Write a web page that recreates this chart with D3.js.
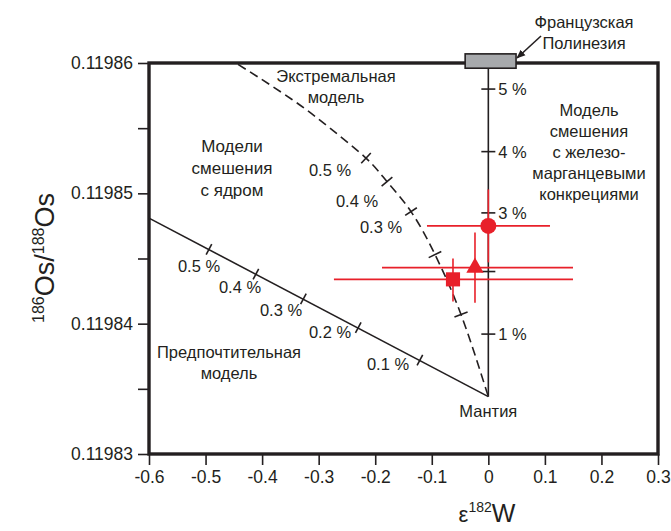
<!DOCTYPE html>
<html><head><meta charset="utf-8">
<script src="https://cdn.jsdelivr.net/npm/d3@7"></script>
<style>
body{margin:0;background:#fff}
text{font-family:"Liberation Sans",Arial,Helvetica,sans-serif;fill:#231f20}
</style>
</head><body><svg id="c" width="671" height="531"></svg>
<script>
// ---------- data ----------
const xTicks = [-0.6,-0.5,-0.4,-0.3,-0.2,-0.1,0,0.1,0.2,0.3];
const yTicks = [0.11983,0.11984,0.11985,0.11986];
const yMinorTicks = [0.119835,0.119845,0.119855];
const mantle = {x:0, y:0.1198344};
// preferred (core mixing) model line
const preferredLine = [{x:0,y:0.1198344},{x:-0.6,y:0.1198481}];
const preferredTicks = [
  {label:"0.1 %",x:-0.121,y:0.1198372},
  {label:"0.2 %",x:-0.230,y:0.1198397},
  {label:"0.3 %",x:-0.327,y:0.1198419},
  {label:"0.4 %",x:-0.411,y:0.1198438},
  {label:"0.5 %",x:-0.494,y:0.1198457}];
// extreme model curve
const extremeCurve = [
  {x:-0.4426,y:0.1198599},{x:-0.3471,y:0.1198572},{x:-0.2800,y:0.1198550},
  {x:-0.2163,y:0.1198527},{x:-0.1792,y:0.1198509},{x:-0.1367,y:0.1198486},
  {x:-0.0943,y:0.1198453},{x:-0.0483,y:0.1198407},{x:0,y:0.1198344}];
const extremeTicks = [
  {label:"0.5 %",x:-0.2163,y:0.1198527},
  {label:"0.4 %",x:-0.1792,y:0.1198509},
  {label:"0.3 %",x:-0.1367,y:0.1198486},
  {label:"",x:-0.0943,y:0.1198453},
  {label:"",x:-0.0483,y:0.1198407}];
// Fe-Mn nodule mixing line (vertical)
const feMnLine = [{x:0,y:0.1198344},{x:0,y:0.11986}];
const feMnTicks = [
  {label:"1 %",x:0,y:0.1198392},
  {label:"",x:0,y:0.1198440},
  {label:"3 %",x:0,y:0.1198485},
  {label:"4 %",x:0,y:0.1198532},
  {label:"5 %",x:0,y:0.1198580}];
// French Polynesia field
const polynesiaBox = {x0:-0.041,x1:0.049,y0:0.1198596,y1:0.1198607};
// samples with error bars
const samples = [
  {shape:"circle",  x:0,      y:0.1198475, xlo:-0.1085,xhi:0.109, ylo:0.1198447,yhi:0.1198503},
  {shape:"triangle",x:-0.0236,y:0.1198443, xlo:-0.188, xhi:0.1497,ylo:0.1198416,yhi:0.1198470},
  {shape:"square",  x:-0.0625,y:0.1198434, xlo:-0.273, xhi:0.1497,ylo:0.1198417,yhi:0.1198450}];

// ---------- layout ----------
const svg = d3.select("#c");
const L=149,R=658,T=63,B=454;
const x = d3.scaleLinear().domain([-0.6,0.3]).range([L,R]);
const y = d3.scaleLinear().domain([0.11983,0.11986]).range([B,T]);
const ink="#231f20", red="#e8202a";
const fs=16.5;

// axes
svg.append("g").attr("transform",`translate(0,${B})`)
  .call(d3.axisBottom(x).tickValues(xTicks).tickSize(11).tickPadding(6)
        .tickFormat(d=> Math.abs(d)<1e-9 ? "0" : d.toFixed(1)));
svg.append("g").attr("transform",`translate(${L},0)`)
  .call(d3.axisLeft(y).tickValues(yTicks).tickSize(11).tickPadding(5)
        .tickFormat(d=>d.toFixed(5)));
svg.append("g").attr("transform",`translate(${L},0)`)
  .call(d3.axisLeft(y).tickValues(yMinorTicks).tickSize(11).tickFormat(""));
svg.selectAll(".domain").remove();
svg.selectAll(".tick line").attr("stroke",ink).attr("stroke-width",1.6);
svg.selectAll(".tick text").attr("font-size",17.5).attr("fill",ink)
  .style("font-family","'Liberation Sans',Arial,sans-serif");

// frame
svg.append("rect").attr("x",L).attr("y",T).attr("width",R-L).attr("height",B-T)
  .attr("fill","none").attr("stroke",ink).attr("stroke-width",3.4);

const line = d3.line().x(d=>x(d.x)).y(d=>y(d.y));

svg.append("path").datum(feMnLine).attr("d",line)
  .attr("stroke",ink).attr("stroke-width",1.6).attr("fill","none");
svg.append("path").datum(preferredLine).attr("d",line)
  .attr("stroke",ink).attr("stroke-width",1.6).attr("fill","none");
svg.append("path").datum(extremeCurve).attr("d",d3.line().x(d=>x(d.x)).y(d=>y(d.y)).curve(d3.curveNatural))
  .attr("stroke",ink).attr("stroke-width",1.6).attr("fill","none")
  .attr("stroke-dasharray","9,5");

function tangentAt(pts, p){
  const P = pts.map(d=>[x(d.x),y(d.y)]);
  const px=[x(p.x),y(p.y)];
  let best=0,bd=1e9;
  P.forEach((q,i)=>{const dd=(q[0]-px[0])**2+(q[1]-px[1])**2; if(dd<bd){bd=dd;best=i;}});
  const a=P[Math.max(0,best-1)], b=P[Math.min(P.length-1,best+1)];
  const dx=b[0]-a[0], dy=b[1]-a[1], n=Math.hypot(dx,dy);
  return [dx/n,dy/n];
}
function drawTicks(pts,ticks,len){
  ticks.forEach(t=>{
    const [tx,ty]=tangentAt(pts,t);
    const nx=-ty, ny=tx;
    const cx=x(t.x), cy=y(t.y);
    svg.append("line").attr("x1",cx-nx*len).attr("y1",cy-ny*len)
      .attr("x2",cx+nx*len).attr("y2",cy+ny*len)
      .attr("stroke",ink).attr("stroke-width",1.6);
  });
}
drawTicks(preferredLine,preferredTicks,6);
drawTicks(extremeCurve,extremeTicks,7);
drawTicks(feMnLine,feMnTicks,7);

const prefLabelPos = {"0.5 %":[199,272],"0.4 %":[240,293],"0.3 %":[281,316],"0.2 %":[330,338],"0.1 %":[388,370]};
preferredTicks.forEach(t=>{
  const p=prefLabelPos[t.label];
  svg.append("text").attr("x",p[0]).attr("y",p[1]).attr("text-anchor","middle")
    .attr("font-size",fs).text(t.label);
});
const extLabelPos = {"0.5 %":[330,176],"0.4 %":[357,207],"0.3 %":[381,233]};
extremeTicks.filter(t=>t.label).forEach(t=>{
  const p=extLabelPos[t.label];
  svg.append("text").attr("x",p[0]).attr("y",p[1]).attr("text-anchor","middle")
    .attr("font-size",fs).text(t.label);
});
feMnTicks.filter(t=>t.label).forEach(t=>{
  svg.append("text").attr("x",x(t.x)+10).attr("y",y(t.y)+6)
    .attr("font-size",fs).text(t.label);
});

// French Polynesia box
svg.append("rect").attr("x",x(polynesiaBox.x0)).attr("y",y(polynesiaBox.y1))
  .attr("width",x(polynesiaBox.x1)-x(polynesiaBox.x0))
  .attr("height",y(polynesiaBox.y0)-y(polynesiaBox.y1))
  .attr("fill","#a7a9ac").attr("stroke",ink).attr("stroke-width",1.6);
svg.append("defs").append("marker").attr("id","ah").attr("viewBox","0 0 10 10")
  .attr("refX",9).attr("refY",5).attr("markerWidth",9).attr("markerHeight",9)
  .attr("orient","auto").attr("markerUnits","userSpaceOnUse")
  .append("path").attr("d","M0,1 L10,5 L0,9 z").attr("fill",ink);
svg.append("line").attr("x1",541).attr("y1",36).attr("x2",x(polynesiaBox.x1)+1).attr("y2",58)
  .attr("stroke",ink).attr("stroke-width",1.6).attr("marker-end","url(#ah)");

// samples
const sg = svg.append("g");
samples.forEach(s=>{
  sg.append("line").attr("x1",x(s.xlo)).attr("x2",x(s.xhi)).attr("y1",y(s.y)).attr("y2",y(s.y))
    .attr("stroke",red).attr("stroke-width",1.6);
  sg.append("line").attr("x1",x(s.x)).attr("x2",x(s.x)).attr("y1",y(s.ylo)).attr("y2",y(s.yhi))
    .attr("stroke",red).attr("stroke-width",1.6);
  const sym = s.shape==="circle"?d3.symbolCircle:(s.shape==="triangle"?d3.symbolTriangle:d3.symbolSquare);
  const size = s.shape==="circle"?200:(s.shape==="triangle"?130:200);
  sg.append("path").attr("d",d3.symbol().type(sym).size(size)())
    .attr("transform",`translate(${x(s.x)},${y(s.y)})`).attr("fill",red);
});

function multi(lines,cx,cy0,dy,size){
  lines.forEach((t,i)=>svg.append("text").attr("x",cx).attr("y",cy0+i*dy)
    .attr("text-anchor","middle").attr("font-size",size).text(t));
}
multi(["Французская","Полинезия"],584,28,21,fs);
multi(["Экстремальная","модель"],336,82,21,fs);
multi(["Модели","смешения","с ядром"],232,152,22,17);
multi(["Модель","смешения","с железо-","марганцевыми","конкрециями"],589,116,21,fs);
multi(["Предпочтительная","модель"],229,358,21,fs);
multi(["Мантия"],x(mantle.x),417,0,fs);

// axis titles
const yt = svg.append("text").attr("transform","translate(54,258) rotate(-90)")
  .attr("text-anchor","middle");
yt.append("tspan").attr("font-size",16).attr("dy",-10).text("186");
yt.append("tspan").attr("font-size",27).attr("dy",10).text("Os/");
yt.append("tspan").attr("font-size",16).attr("dy",-10).text("188");
yt.append("tspan").attr("font-size",27).attr("dy",10).text("Os");

const xt = svg.append("text").attr("x",487).attr("y",522).attr("text-anchor","middle");
xt.append("tspan").attr("font-size",22).text("ε");
xt.append("tspan").attr("font-size",14).attr("dy",-10).text("182");
xt.append("tspan").attr("font-size",25).attr("dy",10).text("W");
</script></body></html>
